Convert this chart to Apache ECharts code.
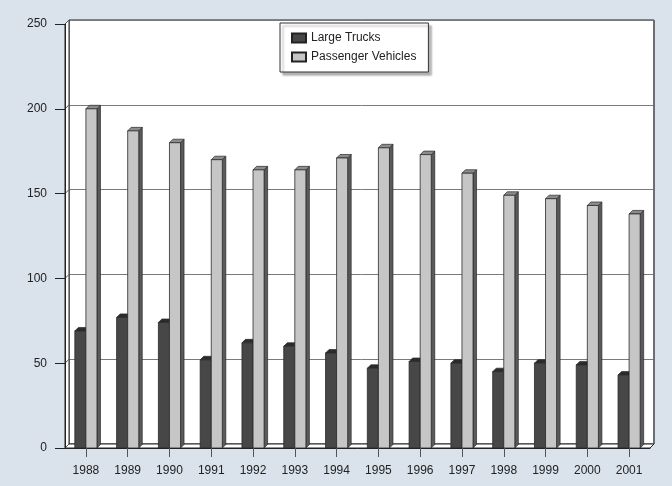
<!DOCTYPE html>
<html>
<head>
<meta charset="utf-8">
<script src="https://cdn.jsdelivr.net/npm/echarts@6/dist/echarts.min.js"></script>
<style>
html,body{margin:0;padding:0;background:#dae3ec;}
#c{width:672px;height:486px;}
</style>
</head>
<body>
<div id="c"></div>
<script>
// ---- data ----
const years = ['1988','1989','1990','1991','1992','1993','1994','1995','1996','1997','1998','1999','2000','2001'];
const largeTrucks = [69, 77, 74, 52, 62, 60, 56, 47, 51, 50, 45, 50, 49, 43];
const passengerVehicles = [200, 187, 180, 170, 164, 164, 171, 177, 173, 162, 149, 147, 143, 138];
const yTicks = [0, 50, 100, 150, 200, 250];

// ---- layout ----
const W = 672, H = 486;
const L = 65, R = 22, T = 24, B = 38;   // front plane
const D = 4;                              // wall depth
const BAR_RATIO = 0.265;
const BAR_D = 3.5;
const FONT = 'Liberation Sans, Arial, Helvetica, sans-serif';

const chart = echarts.init(document.getElementById('c'), null, {renderer: 'canvas'});

function make3D(side, cFront, cTop, cSide) {
  return function (params, api) {
    const idx = api.value(0), v = api.value(1);
    const p = api.coord([idx, v]);
    const base = api.coord([idx, 0]);
    const band = api.size([1, 0])[0];
    const w = band * BAR_RATIO;
    const x0 = side < 0 ? p[0] - w : p[0];
    const x1 = x0 + w;
    const d = BAR_D;
    const edge = '#2a2a2a';
    return {
      type: 'group',
      children: [
        {type: 'polygon', shape: {points: [[x1, base[1]], [x1 + d, base[1] - d], [x1 + d, p[1] - d], [x1, p[1]]]},
          style: {fill: cSide, stroke: edge, lineWidth: 0.7}},
        {type: 'polygon', shape: {points: [[x0, p[1]], [x0 + d, p[1] - d], [x1 + d, p[1] - d], [x1, p[1]]]},
          style: {fill: cTop, stroke: edge, lineWidth: 0.7}},
        {type: 'rect', shape: {x: x0, y: p[1], width: w, height: base[1] - p[1]},
          style: {fill: cFront, stroke: edge, lineWidth: 0.8}}
      ]
    };
  };
}

const option = {
  backgroundColor: '#dae3ec',
  animation: false,
  legend: {
    orient: 'vertical',
    left: 280, top: 23,
    padding: [8, 12, 8, 11],
    itemGap: 5,
    itemWidth: 14, itemHeight: 9,
    icon: 'rect',
    backgroundColor: '#ffffff',
    borderColor: '#333',
    borderWidth: 1,
    shadowColor: 'rgba(0,0,0,0.3)',
    shadowOffsetX: 3, shadowOffsetY: 3, shadowBlur: 2,
    textStyle: {fontFamily: FONT, fontSize: 12, color: '#222', lineHeight: 14},
    data: ['Large Trucks', 'Passenger Vehicles']
  },
  grid: [
    {left: L, right: R, top: T, bottom: B},
    {left: L + D, right: R - D, top: T - D, bottom: B + D, show: true,
      backgroundColor: '#ffffff', borderColor: '#222', borderWidth: 1}
  ],
  xAxis: [
    {type: 'category', gridIndex: 0, data: years, boundaryGap: true,
      axisLine: {show: true, lineStyle: {color: '#222', width: 1}},
      axisTick: {show: true, alignWithLabel: true, interval: 0, length: 9, lineStyle: {color: '#555'}},
      axisLabel: {interval: 0, margin: 17, fontFamily: FONT, fontSize: 12, color: '#222'},
      splitLine: {show: false}, z: 5},
    {type: 'category', gridIndex: 1, data: years, show: false}
  ],
  yAxis: [
    {type: 'value', gridIndex: 0, min: 0, max: 250, interval: 50,
      axisLine: {show: true, lineStyle: {color: '#222', width: 1}},
      axisTick: {show: true, length: 10, lineStyle: {color: '#222'}},
      axisLabel: {margin: 18, fontFamily: FONT, fontSize: 12, color: '#222',
        formatter: v => yTicks.indexOf(v) >= 0 ? String(v) : ''},
      splitLine: {show: false}, z: 5},
    {type: 'value', gridIndex: 1, min: 0, max: 250, interval: 50,
      axisLine: {show: false}, axisTick: {show: false}, axisLabel: {show: false},
      splitLine: {show: true, lineStyle: {color: '#7a7a7a', width: 1}}}
  ],
  series: [
    {name: 'Large Trucks', type: 'custom', xAxisIndex: 0, yAxisIndex: 0, z: 3,
      itemStyle: {color: '#474747', borderColor: '#222', borderWidth: 1},
      renderItem: make3D(-1, '#474747', '#2c2c2c', '#333333'),
      encode: {x: 0, y: 1},
      data: largeTrucks.map((v, i) => [i, v])},
    {name: 'Passenger Vehicles', type: 'custom', xAxisIndex: 0, yAxisIndex: 0, z: 3,
      itemStyle: {color: '#c6c6c6', borderColor: '#222', borderWidth: 1},
      renderItem: make3D(1, '#c6c6c6', '#8c8c8c', '#5a5a5a'),
      encode: {x: 0, y: 1},
      data: passengerVehicles.map((v, i) => [i, v])}
  ]
};
chart.setOption(option);

// 3D walls: floor strip, left wall strip, tick connectors
const x0 = L, x1 = W - R, yTop = T, yBot = H - B;
const g = [];
g.push({type: 'polygon', z: 2, shape: {points: [[x0, yBot], [x1, yBot], [x1 + D, yBot - D], [x0 + D, yBot - D]]},
  style: {fill: '#ffffff', stroke: '#222', lineWidth: 1}});
g.push({type: 'polygon', z: 2, shape: {points: [[x0, yBot], [x0, yTop], [x0 + D, yTop - D], [x0 + D, yBot - D]]},
  style: {fill: '#ffffff', stroke: '#222', lineWidth: 1}});
g.push({type: 'line', z: 2, shape: {x1: x1 + D, y1: yTop - D, x2: x1 + D, y2: yBot - D},
  style: {stroke: '#666', lineWidth: 1.5}});
yTicks.forEach(v => {
  const py = chart.convertToPixel({yAxisIndex: 0}, v);
  g.push({type: 'line', z: 2, shape: {x1: x0, y1: py, x2: x0 + D, y2: py - D},
    style: {stroke: '#555', lineWidth: 1}});
});
chart.setOption({graphic: g});
</script>
</body>
</html>
